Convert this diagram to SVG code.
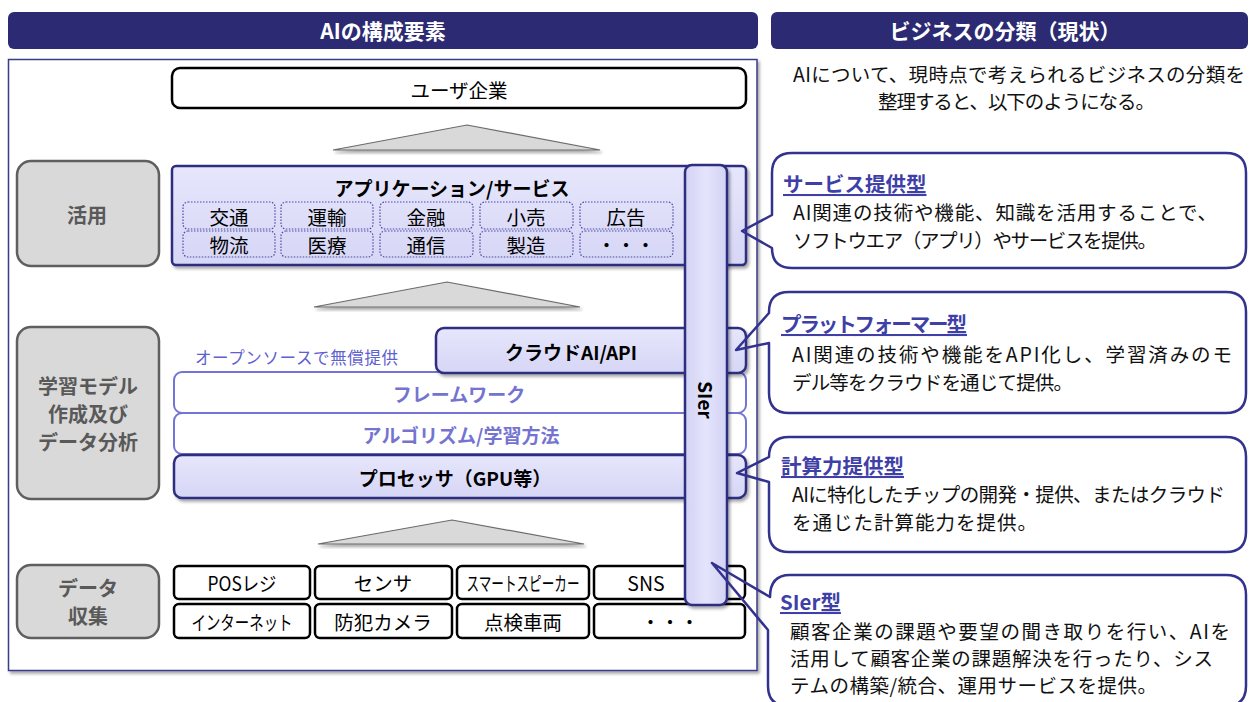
<svg xmlns="http://www.w3.org/2000/svg" width="1253" height="702" viewBox="0 0 1253 702">
<defs>
<filter id="sh" x="-10%" y="-10%" width="130%" height="130%">
<feDropShadow dx="2" dy="2.5" stdDeviation="1.6" flood-color="#000" flood-opacity="0.35"/>
</filter>
<linearGradient id="lav" x1="0" y1="0" x2="0" y2="1">
<stop offset="0" stop-color="#e6e6fc"/>
<stop offset="1" stop-color="#d6d6f6"/>
</linearGradient>
<linearGradient id="bar" x1="0" y1="0" x2="1" y2="0">
<stop offset="0" stop-color="#d2d2f4"/>
<stop offset="0.5" stop-color="#e4e4fc"/>
<stop offset="1" stop-color="#d2d2f4"/>
</linearGradient>
<style>
text{font-family:"Noto Sans CJK JP","Noto Sans",sans-serif;}
.hdr{fill:#2b2a72;}
.hdrt{fill:#fff;font-weight:bold;font-size:21px;text-anchor:middle;dominant-baseline:central;}
.gray{fill:#d9d9d9;stroke:#5f5f5f;stroke-width:2.5;}
.grayt{fill:#595959;font-weight:bold;font-size:20px;text-anchor:middle;dominant-baseline:central;}
.lav{fill:url(#lav);stroke:#2e2e80;stroke-width:2.5;}
.fw{fill:#fff;stroke:#7474d6;stroke-width:2;}
.fwt{fill:#7474d0;font-weight:bold;font-size:19px;text-anchor:middle;dominant-baseline:central;}
.bt{fill:#000;font-weight:bold;font-size:19px;text-anchor:middle;dominant-baseline:central;}
.dot{fill:none;stroke:#4a4aa8;stroke-width:1.2;stroke-dasharray:1.5 1.5;}
.dt{fill:#000;font-size:19.5px;text-anchor:middle;dominant-baseline:central;}
.blk{fill:#fff;stroke:#000;stroke-width:2.5;}
.tri{fill:#d9d9d9;stroke:#6b6b6b;stroke-width:1.2;}
.call{fill:none;stroke:#33338f;stroke-width:2.5;stroke-linejoin:round;}
.ct{fill:#3f3fa8;font-weight:bold;font-size:20.5px;text-decoration:underline;}
.tx{fill:#111;font-size:19.5px;}
</style>
</defs>
<rect width="1253" height="702" fill="#fff"/>

<g id="header-left">
<rect class="hdr" x="8" y="12" width="750" height="37" rx="6"/>
<text class="hdrt" x="383" y="30" font-size="22">AIの構成要素</text>
</g>
<g id="header-right">
<rect class="hdr" x="771" y="12" width="477" height="37" rx="6"/>
<text class="hdrt" x="1005" y="30" font-size="20.5">ビジネスの分類（現状）</text>
</g>

<g id="frame">
<rect x="8.5" y="59.5" width="748.5" height="611" fill="#fff" stroke="#3a3a8c" stroke-width="1.5" filter="url(#sh)"/>
</g>

<g id="user">
<rect class="blk" x="172" y="68" width="574" height="40" rx="8"/>
<text class="dt" x="459" y="89" font-size="21.5">ユーザ企業</text>
</g>

<g id="triangles">
<polygon class="tri" points="333,150 467,125 600,150" filter="url(#sh)"/>
<polygon class="tri" points="314,307 447,282 580,307" filter="url(#sh)"/>
<polygon class="tri" points="318,544 452,520 584,544" filter="url(#sh)"/>
</g>

<g id="label-katsuyo">
<rect class="gray" x="17" y="161" width="142" height="105" rx="14"/>
<text class="grayt" x="87" y="214" font-size="21">活用</text>
</g>
<g id="label-gakushu">
<rect class="gray" x="17" y="327" width="142" height="172" rx="14"/>
<text class="grayt" x="88" y="385">学習モデル</text>
<text class="grayt" x="88" y="413">作成及び</text>
<text class="grayt" x="88" y="441">データ分析</text>
</g>
<g id="label-data">
<rect class="gray" x="17" y="565" width="142" height="73" rx="14"/>
<text class="grayt" x="88" y="587" font-size="19">データ</text>
<text class="grayt" x="88" y="615" font-size="19">収集</text>
</g>

<g id="app">
<rect class="lav" x="172" y="166" width="574" height="99" rx="4" filter="url(#sh)"/>
<text class="bt" x="452" y="187">アプリケーション/サービス</text>
<rect class="dot" x="183" y="202" width="92" height="27" rx="5"/>
<rect class="dot" x="281" y="202" width="92" height="27" rx="5"/>
<rect class="dot" x="380" y="202" width="93" height="27" rx="5"/>
<rect class="dot" x="480" y="202" width="93" height="27" rx="5"/>
<rect class="dot" x="580" y="202" width="93" height="27" rx="5"/>
<rect class="dot" x="183" y="231" width="92" height="26" rx="5"/>
<rect class="dot" x="281" y="231" width="92" height="26" rx="5"/>
<rect class="dot" x="380" y="231" width="93" height="26" rx="5"/>
<rect class="dot" x="480" y="231" width="93" height="26" rx="5"/>
<rect class="dot" x="580" y="231" width="93" height="26" rx="5"/>
<text class="dt" x="229" y="216">交通</text>
<text class="dt" x="327" y="216">運輸</text>
<text class="dt" x="426" y="216">金融</text>
<text class="dt" x="526" y="216">小売</text>
<text class="dt" x="626" y="216">広告</text>
<text class="dt" x="229" y="244">物流</text>
<text class="dt" x="327" y="244">医療</text>
<text class="dt" x="426" y="244">通信</text>
<text class="dt" x="526" y="244">製造</text>
<text class="dt" x="626" y="244" font-size="14">・・・</text>
</g>

<g id="opensource">
<text x="195" y="364" font-size="16.5" fill="#6060d0" textLength="203">オープンソースで無償提供</text>
</g>
<g id="framework">
<rect class="fw" x="174" y="372" width="572" height="41" rx="8"/>
<text class="fwt" x="459" y="393">フレームワーク</text>
</g>
<g id="algorithm">
<rect class="fw" x="174" y="413" width="572" height="41" rx="8"/>
<text class="fwt" x="461" y="434" font-size="20">アルゴリズム/学習方法</text>
</g>
<g id="cloud">
<rect class="lav" x="436" y="328" width="310" height="45" rx="8" filter="url(#sh)"/>
<text class="bt" x="571" y="351" font-size="20.5">クラウドAI/API</text>
</g>
<g id="processor">
<rect class="lav" x="174" y="455" width="572" height="43" rx="8" filter="url(#sh)"/>
<text class="bt" x="455" y="477" font-size="20">プロセッサ（GPU等）</text>
</g>

<g id="data">
<rect class="blk" x="174" y="566" width="136" height="33" rx="5"/>
<rect class="blk" x="315" y="566" width="137" height="33" rx="5"/>
<rect class="blk" x="457" y="566" width="132" height="33" rx="5"/>
<rect class="blk" x="594" y="566" width="151" height="33" rx="5"/>
<rect class="blk" x="174" y="604" width="136" height="34" rx="5"/>
<rect class="blk" x="315" y="604" width="137" height="34" rx="5"/>
<rect class="blk" x="457" y="604" width="132" height="34" rx="5"/>
<rect class="blk" x="594" y="604" width="151" height="34" rx="5"/>
<text class="dt" x="242" y="582" font-size="17" textLength="69" lengthAdjust="spacingAndGlyphs">POSレジ</text>
<text class="dt" x="383" y="582" font-size="20">センサ</text>
<text class="dt" x="523" y="582" font-size="15" textLength="113" lengthAdjust="spacingAndGlyphs">スマートスピーカー</text>
<text class="dt" x="646" y="582" font-size="22">SNS</text>
<text class="dt" x="242" y="621" font-size="16" textLength="101" lengthAdjust="spacingAndGlyphs">インターネット</text>
<text class="dt" x="383" y="621" font-size="20.5">防犯カメラ</text>
<text class="dt" x="523" y="621" font-size="22">点検車両</text>
<text class="dt" x="670" y="621" font-size="14">・・・</text>
</g>

<g id="sier">
<rect x="685" y="165" width="42" height="440" rx="7" fill="url(#bar)" stroke="#2e2e80" stroke-width="2.5" filter="url(#sh)"/>
<text class="bt" x="706" y="400" font-size="21" transform="rotate(90 706 400)">SIer</text>
</g>

<g id="intro">
<text class="tx" x="793" y="82" textLength="452">AIについて、現時点で考えられるビジネスの分類を</text>
<text class="tx" x="878" y="109" textLength="277">整理すると、以下のようになる。</text>
</g>

<g id="connectors">
<path class="call" d="M792 153 H1226 Q1246 153 1246 173 V248 Q1246 268 1226 268 H792 Q772 268 772 248 L742 231 L772 215 V173 Q772 153 792 153 Z"/>
<path class="call" d="M789 292 H1226 Q1246 292 1246 312 V393 Q1246 413 1226 413 H789 Q769 413 769 393 V343 L736 350 L769 313 V312 Q769 292 789 292 Z"/>
<path class="call" d="M789 437 H1226 Q1246 437 1246 457 V532 Q1246 552 1226 552 H789 Q769 552 769 532 V482 L737 473 L769 457 Q769 437 789 437 Z"/>
<path class="call" d="M790 575 H1226 Q1246 575 1246 595 V686 Q1246 706 1226 706 H788 Q768 706 768 686 V630 L712 563 L770 597 Q770 575 790 575 Z"/>
</g>

<g id="callout-service">
<text class="ct" x="783" y="192">サービス提供型</text>
<text class="tx" x="793" y="220" textLength="424">AI関連の技術や機能、知識を活用することで、</text>
<text class="tx" x="793" y="248" textLength="364">ソフトウエア（アプリ）やサービスを提供。</text>
</g>
<g id="callout-platform">
<text class="ct" x="781" y="332" textLength="186">プラットフォーマー型</text>
<text class="tx" x="792" y="362" textLength="440">AI関連の技術や機能をAPI化し、学習済みのモ</text>
<text class="tx" x="792" y="390" textLength="281">デル等をクラウドを通じて提供。</text>
</g>
<g id="callout-compute">
<text class="ct" x="781" y="474" font-size="21.5">計算力提供型</text>
<text class="tx" x="792" y="502" textLength="433">AIに特化したチップの開発・提供、またはクラウド</text>
<text class="tx" x="792" y="530" textLength="245">を通じた計算能力を提供。</text>
</g>
<g id="callout-sier">
<text class="ct" x="780" y="610" font-size="21">SIer型</text>
<text class="tx" x="790" y="639" textLength="440">顧客企業の課題や要望の聞き取りを行い、AIを</text>
<text class="tx" x="790" y="666" textLength="423">活用して顧客企業の課題解決を行ったり、シス</text>
<text class="tx" x="790" y="693" textLength="367">テムの構築/統合、運用サービスを提供。</text>
</g>
</svg>
